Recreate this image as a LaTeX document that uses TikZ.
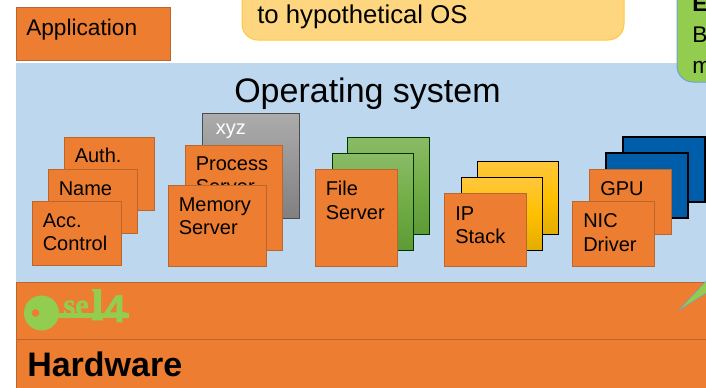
\documentclass[tikz,border=0pt]{standalone}
\usepackage{fontspec}
\setmainfont{Liberation Sans}
\newfontfamily\keyfont[BoldFont={Liberation Serif Bold},BoldFeatures={FakeBold=1.5}]{Liberation Serif}
\newfontfamily\keysans[BoldFont={Liberation Sans Bold},BoldFeatures={FakeBold=1.5}]{Liberation Sans}
\definecolor{orbox}{HTML}{ED7D31}
\definecolor{ordraw}{HTML}{B9662F}
\definecolor{osblue}{HTML}{BDD7EE}
\definecolor{keygreen}{HTML}{92CD50}
\definecolor{gtop}{HTML}{8ABB66}
\definecolor{gmid}{HTML}{72AD47}
\definecolor{gbot}{HTML}{5D9A35}
\definecolor{ytop}{HTML}{FFC83D}
\definecolor{ymid}{HTML}{FFC000}
\definecolor{ybot}{HTML}{E3AC00}
\definecolor{grtop}{HTML}{ACACAC}
\definecolor{grbot}{HTML}{808080}
\definecolor{deepblue}{HTML}{005DA9}
\definecolor{calloutfill}{HTML}{FFD680}
\definecolor{calloutline}{HTML}{FFC83D}
\definecolor{greenline}{HTML}{6FA0D0}
\begin{document}
\begin{tikzpicture}[x=0.75pt,y=-0.75pt,
  box/.style={draw=ordraw,line width=0.75pt,fill=orbox},
  lbl/.style={font=\fontsize{15}{17.5}\selectfont,anchor=north west,align=left,inner sep=0pt,text=black},
  basetxt/.style={anchor=base west,inner sep=0pt,text=black},
  greenbox/.style={draw=black!80!green,line width=0.75pt,top color=gtop,bottom color=gbot,middle color=gmid},
  yellowbox/.style={draw=black,line width=0.75pt,top color=ytop,bottom color=ybot,middle color=ymid},
  bluebox/.style={draw=black,line width=1.5pt,fill=deepblue}]
\useasboundingbox (0,0) rectangle (706,387);
\clip (0,0) rectangle (706,387);
\fill[white] (0,0) rectangle (706,387);
% top
\draw[box] (16,7) rectangle (170,60);
\node[basetxt,font=\fontsize{17}{20}\selectfont] (app) at (26,35) {Application};
\draw[draw=calloutline,fill=calloutfill,rounded corners=12pt,line width=0.75pt] (242,-30) rectangle (624,40);
\node[basetxt,font=\fontsize{19.3}{22}\selectfont] (hyp) at (257,23.5) {to hypothetical OS};
% OS
\fill[osblue] (16,63) rectangle (706,283);
\draw[draw=greenline,fill=keygreen,rounded corners=12pt,line width=0.75pt] (677,-30) rectangle (730,82);
\node[basetxt,font=\fontsize{17}{20}\bfseries\selectfont] (ge) at (692,11.5) {E};
\node[basetxt,font=\fontsize{17}{20}\selectfont] (gb) at (692,42) {B};
\node[basetxt,font=\fontsize{17}{20}\selectfont] (gm) at (692,73) {m};
\node[anchor=base,inner sep=0pt,font=\fontsize{25.5}{30}\selectfont] (os) at (367.5,102) {Operating system};
% stack 1
\draw[box] (64,137) rectangle (154,210);
\node[lbl] (auth) at (74.5,148) {Auth.};
\draw[box] (48,169) rectangle (137,233);
\node[lbl] (name) at (58.5,181) {Name};
\draw[box] (32,201) rectangle (121,265);
\node[lbl] (acc) at (42.5,213.5) {Acc.\\Control};
% stack 2
\draw[draw=black!70,line width=0.75pt,top color=grtop,bottom color=grbot] (202,113) rectangle (299,218);
\node[lbl,text=white] (xyz) at (215.5,124) {xyz};
\draw[box] (185,145) rectangle (282,250);
\begin{scope}
\clip (185,145) rectangle (282,184);
\node[lbl] (proc) at (195.5,156.5) {Process\\Server};
\end{scope}
\draw[box] (168,185) rectangle (266,266);
\node[lbl] (mem) at (178.5,197.5) {Memory\\Server};
% stack 3
\draw[greenbox] (347,137) rectangle (429,234);
\draw[greenbox] (332,153) rectangle (413,250);
\draw[box] (315,169) rectangle (397,266);
\node[lbl] (file) at (325.5,181) {File\\Server};
% stack 4
\draw[yellowbox] (477,161) rectangle (558,234);
\draw[yellowbox] (461,177) rectangle (542,250);
\draw[box] (444,193) rectangle (526,266);
\node[lbl] (ip) at (455,206.5) {IP\\Stack};
% stack 5
\draw[bluebox] (623,137) rectangle (705,202);
\draw[bluebox] (606,153) rectangle (688,218);
\draw[box] (589,169) rectangle (671,234);
\node[lbl] (gpu) at (600,181.5) {GPU};
\draw[box] (572,201) rectangle (654,266);
\node[lbl] (nic) at (583,213.5) {NIC\\Driver};
% bottom
\draw[box] (16,282) rectangle (720,339);
\draw[box] (16,339) rectangle (720,400);
\node[basetxt,font=\fontsize{25.5}{30}\bfseries\selectfont] (hw) at (27,376.5) {Hardware};
% key
\fill[keygreen,even odd rule] (41.5,313) circle[radius=17.5] (35.5,313) circle[radius=4];
\fill[keygreen] (56,313) rectangle (129,317.5);
\node[basetxt,text=keygreen,font=\keyfont\bfseries\fontsize{23}{23}\selectfont] (se) at (63,315) {se};
\node[basetxt,text=keygreen,font=\keyfont\bfseries\fontsize{33}{33}\selectfont] (el) at (91,320) {l};
\node[basetxt,text=keygreen,font=\keysans\bfseries\fontsize{29}{29}\selectfont] (four) at (104,322) {4};
% callout tail
\draw[draw=greenline,fill=keygreen,line width=0.4pt] (679,310) -- (708,279) -- (708,292) -- cycle;
\end{tikzpicture}
\end{document}
